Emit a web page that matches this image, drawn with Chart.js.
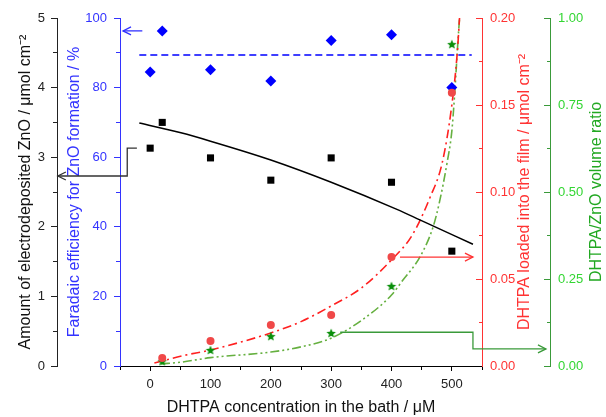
<!DOCTYPE html>
<html><head><meta charset="utf-8">
<script src="https://cdn.jsdelivr.net/npm/chart.js@4.4.0/dist/chart.umd.min.js"></script>
<style>html,body{margin:0;padding:0;background:#fff;}#wrap{width:606px;height:417px;position:relative;}</style>
</head><body><div id="wrap"><canvas id="c"></canvas></div>
<script>
// ---- data ----
const concentration = [0, 20, 100, 200, 300, 400, 500];            // µM
const znoAmount     = [3.13, 3.50, 2.99, 2.67, 2.99, 2.64, 1.65];   // µmol cm-2
const faradaicEff   = [84.5, 96.3, 85.1, 81.9, 93.5, 95.2, 80.0];   // %
const dhtpaConc     = [20, 100, 200, 300, 400, 500];                // µM
const dhtpaLoaded   = [0.0046, 0.0144, 0.0236, 0.0293, 0.0626, 0.157]; // µmol cm-2
const volumeRatio   = [0.014, 0.046, 0.086, 0.095, 0.230, 0.925];

// fitted / guide curves
const feMeanX = [-18, 533];
const feMeanY = [89.4, 89.4];
const znoFitX = [-18, 51, 100, 200, 300, 409, 447, 535];
const znoFitY = [3.49, 3.35, 3.23, 2.96, 2.64, 2.25, 2.10, 1.75];
const loadFitX = [7, 55, 100, 200, 250, 300, 350, 400, 434, 464, 484, 500, 509, 514];
const loadFitY = [0.0017, 0.006, 0.0092, 0.019, 0.0255, 0.0345, 0.0448, 0.061, 0.075, 0.097, 0.1167, 0.150, 0.180, 0.207];
const ratioFitX = [18, 51, 100, 200, 250, 300, 351, 400, 419, 447, 469, 480, 492, 500, 505, 510, 514];
const ratioFitY = [0.006, 0.011, 0.024, 0.040, 0.055, 0.080, 0.132, 0.204, 0.247, 0.313, 0.400, 0.475, 0.583, 0.675, 0.790, 0.930, 1.03];

// axis tick settings
const xTicks = {min: -50, max: 550, step: 50, labelEvery: 100};
const yBTicks = {min: 0, max: 5, step: 0.5, labelEvery: 1};
const yFTicks = {min: 0, max: 100, step: 10, labelEvery: 20};
const yRTicks = {min: 0, max: 0.20, step: 0.025, labelEvery: 0.05};
const yGTicks = {min: 0, max: 1.00, step: 0.125, labelEvery: 0.25};

// annotation arrows (data coordinates)
const arrowBlueX = [-13, -45],  arrowBlueY = [96.3, 96.3];
const arrowBlackX = [-22, -38, -38, -153], arrowBlackY = [3.13, 3.13, 2.73, 2.73];
const arrowRedX = [414, 535], arrowRedY = [0.0626, 0.0626];
const arrowGreenX = [315, 535, 535, 656], arrowGreenY = [0.097, 0.097, 0.049, 0.049];

// ---- styles ----
const FONT = "'Liberation Sans', Arial, sans-serif";
const C = {
  black: '#111111', blackTick: '#222222', blue: '#0000ff', blueTxt: '#3333ff',
  red: '#ff2020', redPt: '#f04848', redTxt: '#ff3333',
  green: '#0a8f0a', greenAxis: '#3a9a3a', greenTxt: '#33d633', greenTitle: '#22a822', greenLine: '#66b040',
  arrowBlack: '#333333'
};

const isMult = (v, m) => Math.abs(v / m - Math.round(v / m)) < 1e-6;
const pts = (xs, ys) => xs.map((x, i) => ({x, y: ys[i]}));

function makeStar(r, color) {
  const s = Math.ceil(r * 2 + 2);
  const c = document.createElement('canvas');
  c.width = s; c.height = s;
  const g = c.getContext('2d');
  g.fillStyle = color;
  g.beginPath();
  for (let i = 0; i < 10; i++) {
    const rr = i % 2 ? r * 0.45 : r;
    const a = -Math.PI / 2 + i * Math.PI / 5;
    const px = s / 2 + rr * Math.cos(a), py = s / 2 + 0.5 + rr * Math.sin(a);
    if (i) g.lineTo(px, py); else g.moveTo(px, py);
  }
  g.closePath(); g.fill();
  return c;
}
const starImg = makeStar(5, C.green);

function yAxis(t, opt) {
  const major = v => isMult(v, t.labelEvery);
  return {
    type: 'linear', position: opt.position, min: t.min, max: t.max, weight: opt.weight,
    afterFit(s) { s.width = opt.width; s.paddingTop = 0; s.paddingBottom = 0; },
    ticks: {
      stepSize: t.step, autoSkip: false, padding: opt.pad, color: opt.txt,
      font: {family: FONT, size: 13},
      callback: v => major(v) ? (opt.dec ? v.toFixed(opt.dec) : String(Math.round(v))) : ''
    },
    grid: {
      drawOnChartArea: false, drawTicks: true, tickLength: opt.tl, color: opt.axis, tickColor: opt.axis,
      tickBorderDash: ctx => (ctx.tick && major(ctx.tick.value)) ? [] : opt.minorDash
    },
    border: {display: true, color: opt.axis, width: 1},
    title: opt.title ? {display: true, text: opt.title, color: opt.titleColor,
      font: {family: FONT, size: 16}, padding: {top: opt.titlePad, bottom: 0}} : {display: false}
  };
}

const arrows = [
  {axis: 'yF', color: C.blueTxt, xs: arrowBlueX, ys: arrowBlueY},
  {axis: 'yB', color: C.arrowBlack, xs: arrowBlackX, ys: arrowBlackY},
  {axis: 'yR', color: C.redTxt, xs: arrowRedX, ys: arrowRedY},
  {axis: 'yG', color: C.greenAxis, xs: arrowGreenX, ys: arrowGreenY}
];

const extras = {
  id: 'extras',
  afterDatasetsDraw(chart) {
    const ctx = chart.ctx, xs = chart.scales.x;
    arrows.forEach(a => {
      const ys = chart.scales[a.axis];
      const p = a.xs.map((v, i) => [xs.getPixelForValue(v), ys.getPixelForValue(a.ys[i])]);
      ctx.save();
      ctx.strokeStyle = a.color; ctx.lineWidth = 1.3;
      ctx.beginPath();
      p.forEach((q, i) => i ? ctx.lineTo(q[0], q[1]) : ctx.moveTo(q[0], q[1]));
      ctx.stroke();
      const [x1, y1] = p[p.length - 2], [x2, y2] = p[p.length - 1];
      const ang = Math.atan2(y2 - y1, x2 - x1), L = 8, W = 4;
      ctx.beginPath();
      ctx.moveTo(x2 - L * Math.cos(ang) + W * Math.sin(ang), y2 - L * Math.sin(ang) - W * Math.cos(ang));
      ctx.lineTo(x2, y2);
      ctx.lineTo(x2 - L * Math.cos(ang) - W * Math.sin(ang), y2 - L * Math.sin(ang) + W * Math.cos(ang));
      ctx.stroke();
      ctx.restore();
    });
  },
  afterDraw(chart) {
    const ctx = chart.ctx, ca = chart.chartArea;
    const cy = (ca.top + ca.bottom) / 2;
    const vt = (text, x, color) => {
      ctx.save(); ctx.translate(x, cy); ctx.rotate(-Math.PI / 2);
      ctx.fillStyle = color; ctx.font = '16px ' + FONT;
      ctx.textAlign = 'center'; ctx.textBaseline = 'middle';
      ctx.fillText(text, 0, 0); ctx.restore();
    };
    vt('DHTPA loaded into the film / μmol cm⁻²', chart.scales.yR.right - 25, C.redTxt);
    vt('DHTPA/ZnO volume ratio', chart.scales.yG.right - 9, C.greenTitle);
  }
};

const lineDs = (data, axis, color, dash, width) => ({
  type: 'scatter', data, yAxisID: axis, showLine: true, pointRadius: 0, borderColor: color,
  borderWidth: width, borderDash: dash, tension: 0.4, cubicInterpolationMode: 'monotone', fill: false
});

new Chart(document.getElementById('c'), {
  type: 'scatter',
  data: {
    datasets: [
      {data: pts(dhtpaConc, dhtpaLoaded), yAxisID: 'yR', pointStyle: 'circle', pointRadius: 4,
        backgroundColor: C.redPt, borderWidth: 0},
      {data: pts(dhtpaConc, volumeRatio), yAxisID: 'yG', pointStyle: starImg, pointRadius: 5},
      {data: pts(concentration, znoAmount), yAxisID: 'yB', pointStyle: 'rect', pointRadius: 5,
        backgroundColor: '#000', borderWidth: 0},
      {data: pts(concentration, faradaicEff), yAxisID: 'yF', pointStyle: 'rectRot', pointRadius: 5.5,
        backgroundColor: C.blue, borderWidth: 0},
      lineDs(pts(feMeanX, feMeanY), 'yF', C.blue, [7, 4], 1.5),
      lineDs(pts(znoFitX, znoFitY), 'yB', '#000', [], 1.5),
      lineDs(pts(loadFitX, loadFitY), 'yR', C.red, [9, 4, 2, 4], 1.6),
      lineDs(pts(ratioFitX, ratioFitY), 'yG', C.greenLine, [9, 3, 2, 3, 2, 3], 1.6)
    ]
  },
  options: {
    responsive: true, maintainAspectRatio: false, animation: false, events: [],
    layout: {padding: {top: 18, left: 0, right: 0, bottom: 0}},
    plugins: {legend: {display: false}, tooltip: {enabled: false}},
    scales: {
      x: {
        type: 'linear', position: 'bottom', min: xTicks.min, max: xTicks.max,
        afterFit(s) { s.height = 51; s.paddingLeft = 0; s.paddingRight = 0; },
        ticks: {
          stepSize: xTicks.step, autoSkip: false, maxRotation: 0, padding: 6, color: C.blackTick,
          font: {family: FONT, size: 13},
          callback: v => (v >= 0 && v <= 500 && isMult(v, xTicks.labelEvery)) ? String(v) : ''
        },
        grid: {drawOnChartArea: false, drawTicks: true, tickLength: 5, color: '#000',
          tickBorderDash: ctx => (ctx.tick && isMult(ctx.tick.value, xTicks.labelEvery)) ? [] : [3, 100]},
        border: {display: true, color: '#000', width: 1},
        title: {display: true, text: 'DHTPA concentration in the bath / μM', color: C.black,
          font: {family: FONT, size: 16}, padding: {top: 0, bottom: 0}}
      },
      yF: yAxis(yFTicks, {position: 'left', weight: 1, width: 63, pad: 7, tl: 6, txt: C.blueTxt, axis: C.blueTxt,
        minorDash: [0, 2, 4, 100], title: 'Faradaic efficiency for ZnO formation / %', titleColor: C.blueTxt, titlePad: 8}),
      yB: yAxis(yBTicks, {position: 'left', weight: 2, width: 57, pad: 6, tl: 6, txt: C.blackTick, axis: '#222',
        minorDash: [0, 2, 4, 100], title: 'Amount of electrodeposited ZnO / μmol cm⁻²', titleColor: C.black, titlePad: 16}),
      yR: yAxis(yRTicks, {position: 'right', weight: 1, width: 68, pad: 14, tl: -6, dec: 2, txt: C.redTxt, axis: C.redTxt,
        minorDash: [4, 100]}),
      yG: yAxis(yGTicks, {position: 'right', weight: 2, width: 56, pad: 14, tl: -6, dec: 2, txt: C.greenTxt, axis: C.greenAxis,
        minorDash: [4, 100]})
    }
  },
  plugins: [extras]
});
</script></body></html>
